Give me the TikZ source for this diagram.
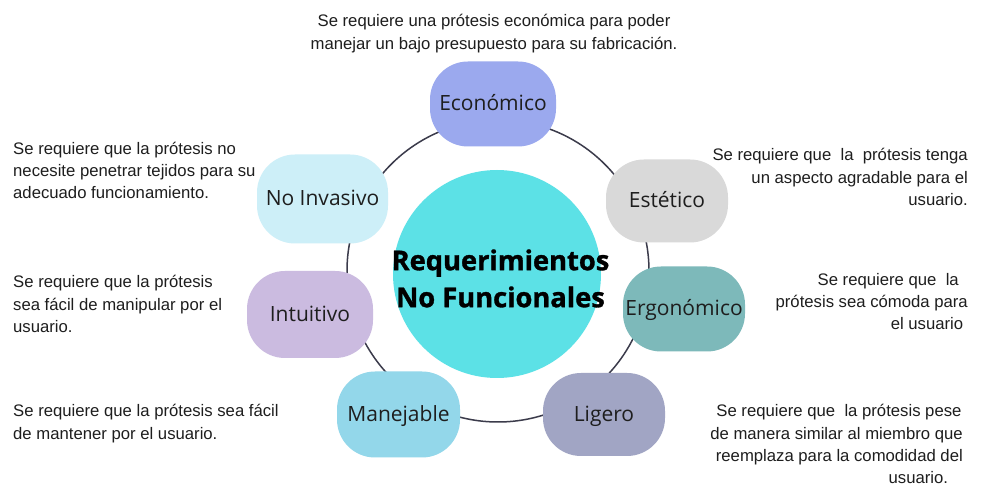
\documentclass[tikz,border=0pt]{standalone}
\usepackage{fontspec}
\setmainfont{Liberation Sans}
\newfontfamily\opensans{Open Sans}
\newfontfamily\osheavy{Open Sans}[BoldFeatures={FakeBold=1.2}]
\definecolor{cEco}{HTML}{9BA9EE}
\definecolor{cEst}{HTML}{D9D9D9}
\definecolor{cErg}{HTML}{7DB9BA}
\definecolor{cInv}{HTML}{CDEFF8}
\definecolor{cInt}{HTML}{CBBBE0}
\definecolor{cMan}{HTML}{93D7EA}
\definecolor{cLig}{HTML}{A1A5C4}
\definecolor{cCen}{HTML}{5CE1E6}
\definecolor{cRing}{HTML}{3B3B4B}
\definecolor{cTxt}{HTML}{1E1E1E}
\newcommand{\mystrut}{\rule{0pt}{16pt}}
\begin{document}
\begin{tikzpicture}[x=1pt,y=-1pt,
  pill/.style={rounded corners=38pt, inner sep=0pt, font=\opensans\fontsize{21}{25}\selectfont,
    text=cTxt, text height=14pt, text depth=0pt},
  desc/.style={inner sep=0pt, font=\fontsize{16.7}{22.3}\selectfont, text=cTxt},
  ring/.style={draw=cRing, line width=1.5pt}]
\useasboundingbox (0,0) rectangle (986,502);
\fill[white] (0,0) rectangle (986,502);
% ring
\coordinate (ringc) at (498,271);
\draw[ring] (ringc) circle[radius=151pt];
% center
\node[circle, fill=cCen, minimum size=208pt, inner sep=0pt] (cen) at (497,274) {};
\node[inner sep=0pt, anchor=north, align=center, font=\osheavy\bfseries\fontsize{27.3}{37}\selectfont]
  (centxt) at (500.5,248) {\rule{0pt}{22pt}Requerimientos\\No Funcionales};
% pills
\node[pill, fill=cEco, minimum width=126pt, minimum height=85pt] (eco) at (493,104) {Económico};
\node[pill, fill=cEst, minimum width=122pt, minimum height=83pt] (est) at (667,201) {Estético};
\node[pill, fill=cErg, minimum width=122pt, minimum height=85pt] (erg) at (684,309) {Ergonómico};
\node[pill, fill=cInv, minimum width=131pt, minimum height=89pt] (inv) at (322.5,199) {No Invasivo};
\node[pill, fill=cInt, minimum width=126pt, minimum height=87pt] (int) at (310,314.5) {Intuitivo};
\node[pill, fill=cMan, minimum width=123pt, minimum height=86pt] (man) at (398.5,414.5) {Manejable};
\node[pill, fill=cLig, minimum width=122pt, minimum height=83pt] (lig) at (604,414.5) {Ligero};
% descriptions
\node[desc, anchor=north, align=center, font=\fontsize{16.7}{23}\selectfont] (deco) at (494,10.5)
  {\mystrut Se requiere una prótesis económica para poder\\manejar un bajo presupuesto para su fabricación.};
\node[desc, anchor=north west, align=left] (dinv) at (13,138)
  {\mystrut Se requiere que la prótesis no\\necesite penetrar tejidos para su\\adecuado funcionamiento.};
\node[desc, anchor=north east, align=right] (dest) at (968,144.7)
  {\mystrut Se requiere que\ \ la\ \ prótesis tenga\\un aspecto agradable para el\\usuario.};
\node[desc, anchor=north east, align=right] (derg) at (968,269)
  {\mystrut Se requiere que\ \ la\hspace*{9pt}\\prótesis sea cómoda para\\el usuario\hspace*{4.6pt}};
\node[desc, anchor=north west, align=left] (dint) at (13,271.7)
  {\mystrut Se requiere que la prótesis\\sea fácil de manipular por el\\usuario.};
\node[desc, anchor=north west, align=left] (dman) at (13,400.7)
  {\mystrut Se requiere que la prótesis sea fácil\\de mantener por el usuario.};
\node[desc, anchor=north east, align=right] (dlig) at (963,400.7)
  {\mystrut Se requiere que\ \ la prótesis pese\hspace*{1.3pt}\\de manera similar al miembro que\\reemplaza para la comodidad del\hspace*{4.7pt}\\usuario.\hspace*{14.7pt}};
\end{tikzpicture}
\end{document}
